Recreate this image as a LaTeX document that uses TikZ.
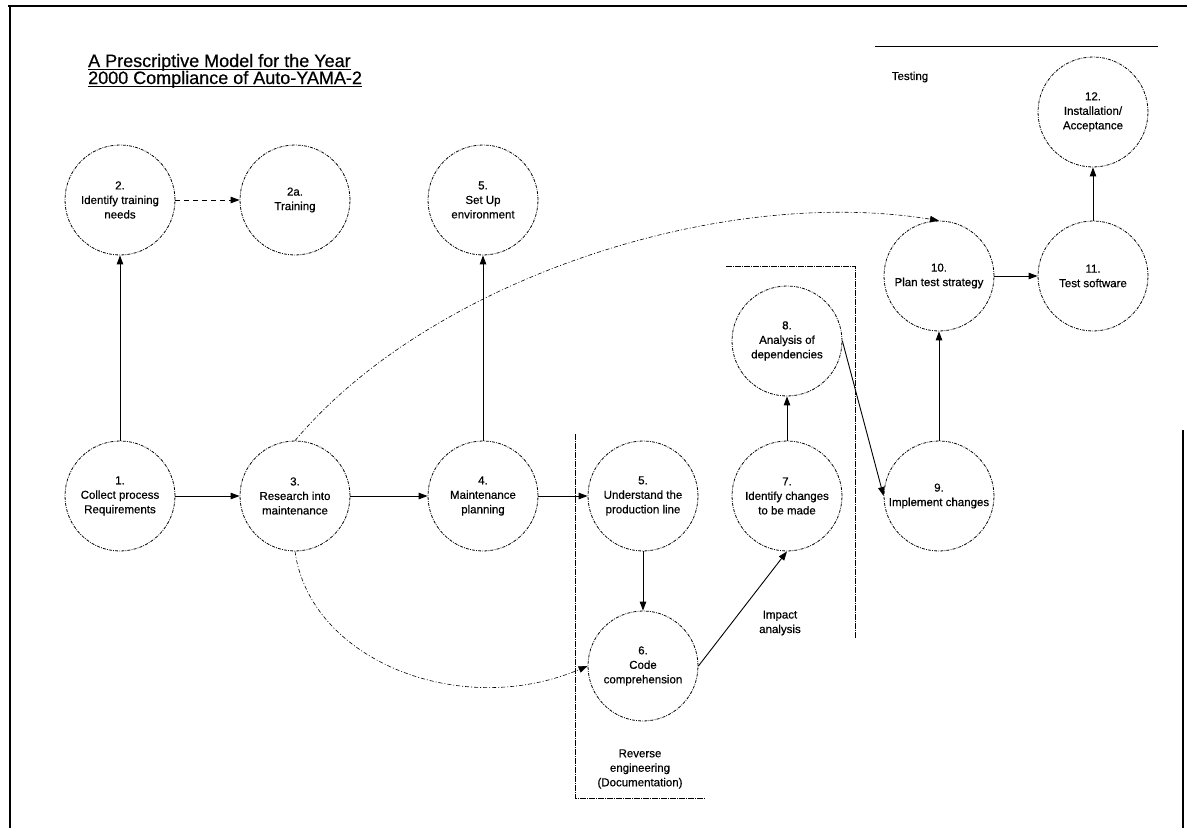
\documentclass[tikz,border=0pt]{standalone}
\usepackage{fontspec}
\setmainfont{Liberation Sans}
\newfontfamily\scanfont{Liberation Sans}[FakeBold=0.5]
\usetikzlibrary{arrows.meta}
\begin{document}
\begin{tikzpicture}[x=1pt,y=-1pt,
  proc/.style={circle, draw=black, line width=0.8pt,
    dash pattern=on 3pt off 1.2pt on 0.8pt off 1.2pt,
    minimum size=110pt, inner sep=0pt, align=center,
    font=\scanfont\fontsize{11.5}{14.5}\selectfont},
  flow/.style={-{Triangle[length=9pt,width=6.5pt]}, line width=0.9pt},
  dflow/.style={flow, dash pattern=on 5pt off 4pt},
  curvy/.style={-{Triangle[length=9pt,width=6.5pt]}, line width=0.6pt,
    dash pattern=on 4pt off 2pt on 1pt off 2pt},
  brk/.style={line width=0.7pt, dash pattern=on 6pt off 1pt on 1pt off 1pt},
  lbl/.style={align=center, font=\scanfont\fontsize{11.5}{14.5}\selectfont},
  ttl/.style={anchor=base west, inner sep=0pt, font=\scanfont\fontsize{18}{18}\selectfont}]
\useasboundingbox (0,0) rectangle (1187,828);
% frame
\draw[line width=2pt] (8,6) -- (1187,6);
\draw[line width=1.6pt] (10,6) -- (10,828);
\draw[line width=2pt] (1183,430) -- (1183,828);
% title
\node[ttl] (t1) at (88,67) {A Prescriptive Model for the Year};
\node[ttl] (t2) at (88,84) {2000 Compliance of Auto-YAMA-2};
\draw[line width=1pt] ([yshift=-2.2pt]t1.base west) -- ([yshift=-2.2pt]t1.base east);
\draw[line width=1pt] ([yshift=-2.2pt]t2.base west) -- ([yshift=-2.2pt]t2.base east);
% circles
\node[proc] (c2) at (120,200) {2.\\Identify training\\needs};
\node[proc] (c2a) at (295,200) {2a.\\Training};
\node[proc] (c5s) at (483,200) {5.\\Set Up\\environment};
\node[proc] (c12) at (1093,112) {12.\\Installation/\\Acceptance};
\node[proc] (c10) at (939,276) {10.\\Plan test strategy};
\node[proc] (c11) at (1093,276) {11.\\Test software};
\node[proc] (c8) at (787,341) {8.\\Analysis of\\dependencies};
\node[proc] (c1) at (120,496) {1.\\Collect process\\Requirements};
\node[proc] (c3) at (295,496) {3.\\Research into\\maintenance};
\node[proc] (c4) at (483,496) {4.\\Maintenance\\planning};
\node[proc] (c5) at (643,496) {5.\\Understand the\\production line};
\node[proc] (c7) at (787,496) {7.\\Identify changes\\to be made};
\node[proc] (c9) at (939,496) {9.\\Implement changes};
\node[proc] (c6) at (643,666) {6.\\Code\\comprehension};
% group brackets and labels
\draw[line width=0.8pt] (875,46) -- (1158,46);
\node[lbl] (testing) at (910,77) {Testing};
\draw[brk] (726,266) -- (855,266) -- (855,638);
\node[lbl] (impact) at (780,623) {Impact\\analysis};
\draw[brk] (575,434) -- (575,798) -- (705,798);
\node[lbl] (reverse) at (640,769) {Reverse\\engineering\\(Documentation)};
% connectors
\draw[flow] (c1) -- (c2);
\draw[dflow] (c2) -- (c2a);
\draw[flow] (c1) -- (c3);
\draw[flow] (c3) -- (c4);
\draw[flow] (c4) -- (c5s);
\draw[flow] (c4) -- (c5);
\draw[flow] (c5) -- (c6);
\draw[flow] (c6.east) -- (c7.south);
\draw[flow] (c7) -- (c8);
\draw[flow] (c8.east) -- (c9.west);
\draw[flow] (c9) -- (c10);
\draw[flow] (c10) -- (c11);
\draw[flow] (c11) -- (c12);
\draw[curvy] (c3.north) .. controls (430,280) and (720,185) .. (c10.north);
\draw[curvy] (c3.south) .. controls (310,660) and (460,720) .. (c6.west);
\end{tikzpicture}
\end{document}
